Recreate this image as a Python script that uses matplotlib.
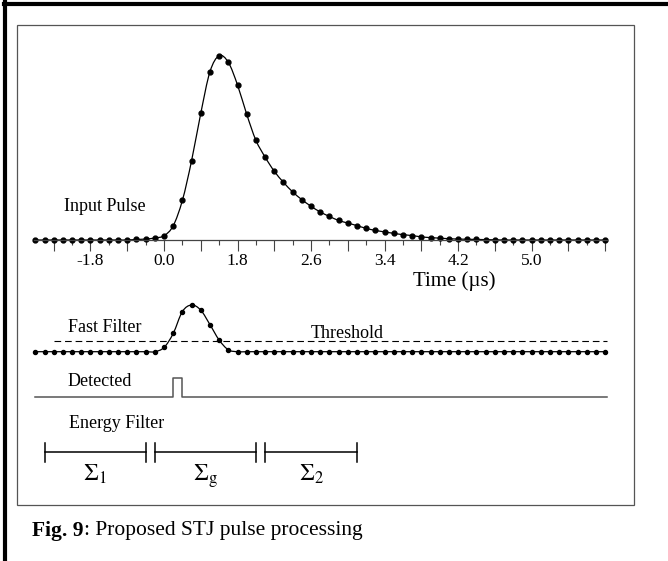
import numpy as np
import matplotlib
matplotlib.use("Agg")
import matplotlib.pyplot as plt
from matplotlib.lines import Line2D
from matplotlib.patches import Rectangle, PathPatch
from matplotlib.path import Path

plt.rcParams["font.family"] = ["Liberation Serif", "DejaVu Serif"]
plt.rcParams["mathtext.fontset"] = "stix"

# sampled traces, one sample every 0.1 us starting at -1.4 us
sample_start = -1.4
sample_step = 0.1

input_pulse = (
    [0.0] * 11
    + [0.003, 0.005, 0.011, 0.023, 0.077, 0.215, 0.430, 0.687, 0.913, 1.000,
       0.964, 0.841, 0.682, 0.541, 0.450, 0.373, 0.313, 0.261, 0.219, 0.183,
       0.152, 0.128, 0.106, 0.092, 0.078, 0.063, 0.052, 0.044, 0.036, 0.029,
       0.024, 0.017, 0.013, 0.010, 0.007, 0.005, 0.004, 0.003, 0.002, 0.001]
    + [0.0] * 12
)
fast_filter = (
    [0.0] * 14
    + [0.09, 0.39, 0.86, 1.00, 0.89, 0.58, 0.25, 0.04]
    + [0.0] * 41
)
threshold = 0.23
threshold_from = -1.2

detect_on, detect_off = 0.1, 0.2

# energy filter sums: (start, end, label)
windows = [(-1.3, -0.2, r"$\Sigma_1$"),
           (-0.1, 1.0, r"$\Sigma_{\rm g}$"),
           (1.1, 2.1, r"$\Sigma_2$")]

tick_pos = [-1.2, -0.8, -0.4, 0.0, 0.4, 0.8, 1.2, 1.6, 2.0, 2.4, 2.8, 3.2,
            3.6, 4.0, 4.4, 4.8]
tick_text = ["", "-1.8", "", "0.0", "", "1.8", "", "2.6", "", "3.4", "",
             "4.2", "", "5.0", "", ""]
minor_pos = [-1.0, -0.6, -0.2, 0.2, 0.6, 1.0, 1.4, 1.8, 2.2, 2.6, 3.0, 3.4,
             3.8, 4.2, 4.6]

t = sample_start + sample_step * np.arange(len(input_pulse))
t_end = t[-1] + 0.02

W, H = 668, 561
fig = plt.figure(figsize=(W / 100, H / 100), dpi=100)

# plotting strip spans pixels 17..634, i.e. -1.6 .. 5.114 us
X0, X1 = 17, 634
T0, T1 = (X0 - 164) / 91.9, (X1 - 164) / 91.9


def band(top, bottom):
    ax = fig.add_axes([X0 / W, 1 - bottom / H, (X1 - X0) / W, (bottom - top) / H])
    ax.set_xlim(T0, T1)
    ax.set_ylim(0, 1)
    ax.patch.set_visible(False)
    for s in ax.spines.values():
        s.set_visible(False)
    ax.set_yticks([])
    ax.set_xticks([])
    return ax


def px_text(x, y, s, **kw):
    return fig.text(x / W, 1 - y / H, s, **kw)


def smooth_curve(ax, x, y, **kw):
    # Catmull-Rom through the samples, drawn as cubic Bezier segments
    x = np.asarray(x, float)
    y = np.asarray(y, float)
    px = np.concatenate([[x[0]], x, [x[-1]]])
    py = np.concatenate([[y[0]], y, [y[-1]]])
    verts = [(x[0], y[0])]
    codes = [Path.MOVETO]
    for i in range(1, len(px) - 2):
        c1 = (px[i] + (px[i + 1] - px[i - 1]) / 6, py[i] + (py[i + 1] - py[i - 1]) / 6)
        c2 = (px[i + 1] - (px[i + 2] - px[i]) / 6, py[i + 1] - (py[i + 2] - py[i]) / 6)
        verts += [c1, c2, (px[i + 1], py[i + 1])]
        codes += [Path.CURVE4] * 3
    patch = PathPatch(Path(verts, codes), fill=False, clip_on=False, **kw)
    ax.add_patch(patch)
    return patch


# page frame and inner box
fig.add_artist(Line2D([5 / W, 5 / W], [0, 1 - 1.5 / H], color="black", lw=3.0))
fig.add_artist(Line2D([3.5 / W, 1], [1 - 3.5 / H, 1 - 3.5 / H], color="black", lw=3.0))
fig.add_artist(Rectangle((X0 / W, 1 - 505 / H), (X1 - X0) / W, (505 - 25) / H,
                         transform=fig.transFigure, fill=False,
                         edgecolor="#555555", lw=0.9))

# input pulse with time axis
ax_in = band(55.7, 240)
smooth_curve(ax_in, t, input_pulse, edgecolor="black", lw=0.9)
ax_in.plot(t, input_pulse, "o", color="black", ms=3.5, clip_on=False)
ax_in.spines["bottom"].set_visible(True)
ax_in.spines["bottom"].set_bounds(t[0] - 0.01, t_end)
ax_in.spines["bottom"].set_color("#444444")
ax_in.spines["bottom"].set_linewidth(0.9)
ax_in.set_xticks(tick_pos, tick_text)
ax_in.set_xticks(minor_pos, minor=True)
ax_in.tick_params(axis="x", which="major", direction="out", length=7.8,
                  width=0.8, color="#444444", pad=1.5, labelsize=12.5)
ax_in.tick_params(axis="x", which="minor", direction="out", length=3.8,
                  width=0.8, color="#444444")
px_text(64, 207, "Input Pulse", fontsize=13, va="center")
px_text(454, 281, "Time (\u00b5s)", fontsize=15, ha="center", va="center")

# fast filter and threshold
ax_ff = band(305, 351.7)
smooth_curve(ax_ff, t, fast_filter, edgecolor="black", lw=0.9)
ax_ff.plot(t, fast_filter, "o", color="black", ms=2.9, clip_on=False)
ax_ff.plot([threshold_from, t_end], [threshold, threshold], color="black",
           lw=0.8, dashes=(6, 3.5), clip_on=False)
px_text(68, 327, "Fast Filter", fontsize=13, va="center")
px_text(311, 333, "Threshold", fontsize=13, va="center")

# detection flag
ax_det = band(378, 396.7)
ax_det.plot([t[0], detect_on, detect_on, detect_off, detect_off, t_end],
            [0, 0, 1, 1, 0, 0], color="#555555", lw=1.1, clip_on=False)
px_text(68, 382, "Detected", fontsize=13, va="center")

# energy filter summing windows
ax_en = band(442.7, 461.7)
for a, b, lab in windows:
    ax_en.plot([a, b], [0.5, 0.5], color="black", lw=1.1, clip_on=False)
    ax_en.plot([a, a], [0, 1], color="black", lw=1.1, clip_on=False)
    ax_en.plot([b, b], [0, 1], color="black", lw=1.1, clip_on=False)
    ax_en.text((a + b) / 2, -0.05, lab, fontsize=17, ha="center", va="top")
px_text(69, 424, "Energy Filter", fontsize=13, va="center")

# caption
cap1 = px_text(32, 531, "Fig. 9", fontsize=15.5, fontweight="bold", va="center")
fig.canvas.draw()
bb = cap1.get_window_extent(fig.canvas.get_renderer())
px_text(bb.x1, 531, ": Proposed STJ pulse processing", fontsize=15.5, va="center")

fig.savefig("out.png", dpi=100)
